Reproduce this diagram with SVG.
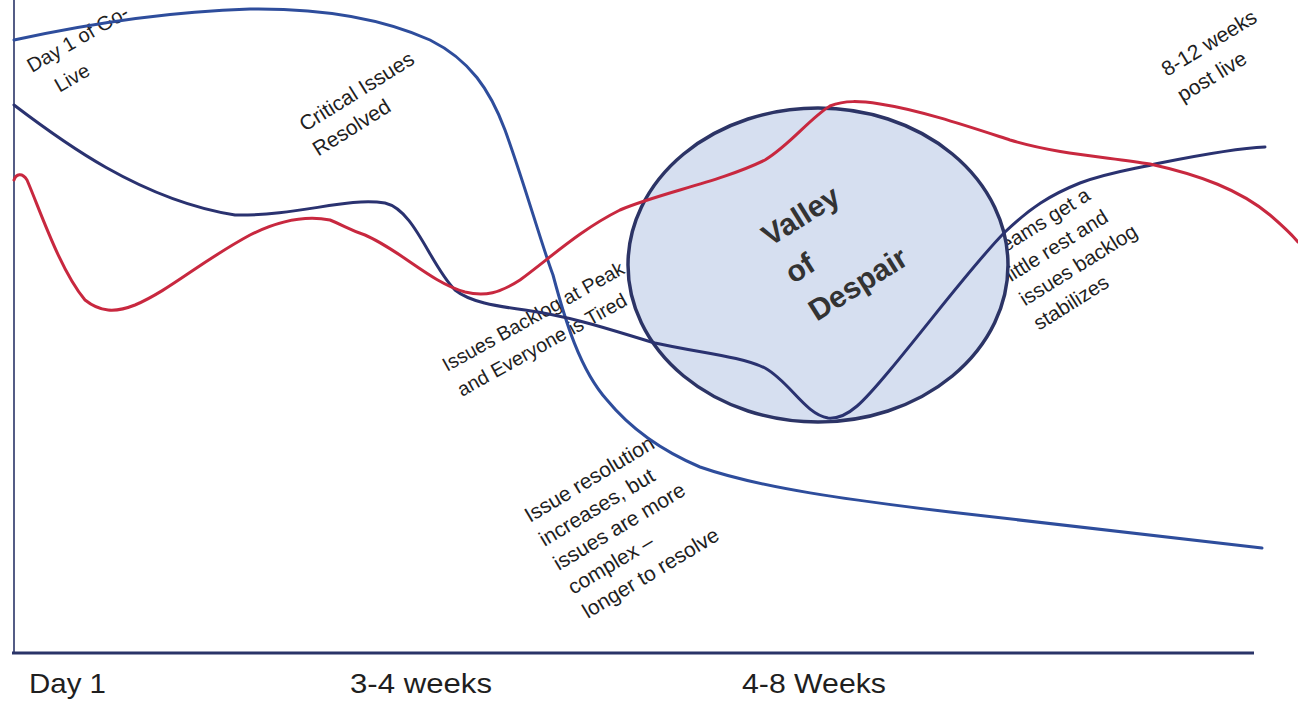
<svg xmlns="http://www.w3.org/2000/svg" width="1298" height="701" viewBox="0 0 1298 701">
<style>
.lbl{font-family:"Liberation Sans",Arial,sans-serif;font-size:20.5px;fill:#1f1f1f}
.ax{font-family:"Liberation Sans",Arial,sans-serif;font-size:28px;fill:#1f1f1f}
.big{font-family:"Liberation Sans",Arial,sans-serif;font-size:30px;font-weight:bold;fill:#333}
.crv{fill:none;stroke-width:3;stroke-linecap:round;stroke-linejoin:round}
</style>
<rect width="1298" height="701" fill="#fff"/>
<g id="axes" stroke="#2a3468" fill="none">
<line x1="14" y1="0" x2="14" y2="653" stroke-width="1.6"/>
<line x1="12" y1="653" x2="1254" y2="653" stroke-width="3"/>
</g>
<g id="axis-labels">
<text class="ax" x="29" y="693" textLength="77" lengthAdjust="spacingAndGlyphs">Day 1</text>
<text class="ax" x="350" y="693" textLength="142" lengthAdjust="spacingAndGlyphs">3-4 weeks</text>
<text class="ax" x="742" y="693" textLength="144" lengthAdjust="spacingAndGlyphs">4-8 Weeks</text>
</g>
<g id="label-day1" transform="translate(32,73) rotate(-30)">
<text class="lbl" style="font-size:20px"><tspan x="0" y="0">Day 1 of Go-</tspan><tspan x="14" y="31">Live</tspan></text>
</g>
<g id="label-critical" transform="translate(305,132) rotate(-32)">
<text class="lbl" style="font-size:21px"><tspan x="0" y="0">Critical Issues</tspan><tspan x="-2" y="28">Resolved</tspan></text>
</g>
<g id="label-backlog" transform="translate(447,372) rotate(-29)">
<text class="lbl" style="font-size:19.7px"><tspan x="0" y="0">Issues Backlog at Peak</tspan><tspan x="1" y="29">and Everyone is Tired</tspan></text>
</g>
<g id="label-resolution" transform="translate(530,523) rotate(-31)">
<text class="lbl" style="font-size:21px"><tspan x="0" y="0">Issue resolution</tspan><tspan x="0" y="28">increases, but</tspan><tspan x="0" y="56">issues are more</tspan><tspan x="0" y="84">complex –</tspan><tspan x="0" y="112">longer to resolve</tspan></text>
</g>
<g id="label-teams" transform="translate(997,258) rotate(-32)">
<text class="lbl"><tspan x="0" y="0">Teams get a</tspan><tspan x="-1" y="28">little rest and</tspan><tspan x="-2" y="56">issues backlog</tspan><tspan x="-3" y="84">stabilizes</tspan></text>
</g>
<g id="label-post" transform="translate(1167,77) rotate(-31.5)">
<text class="lbl" style="font-size:21px"><tspan x="0" y="0">8-12 weeks</tspan><tspan x="0" y="30">post live</tspan></text>
</g>
<g id="valley">
<ellipse cx="818" cy="265" rx="190" ry="157" fill="#d6dff0" stroke="#2c3466" stroke-width="3.5"/>
</g>
<g id="connectors">
<path id="curve-resolution" class="crv" stroke="#2e4d9c" d="M14,40 C60,30 150,12 250,9 C330,8 390,22 430,40 C470,60 490,90 505,130 C525,185 540,240 553,275 C565,320 580,370 607,400 C630,428 660,450 700,467 C760,488 850,500 950,512 C1080,527 1180,538 1262,548"/>
<path id="curve-backlog" class="crv" stroke="#2a3270" d="M14,105 C60,140 140,200 235,215 C300,216 345,197 385,203 C415,210 430,265 455,290 C470,302 495,306 525,310 C580,318 620,333 655,343 C700,353 740,356 765,368 C790,382 805,414 828,418 C848,420 865,400 890,370 C930,322 975,262 1005,232 C1030,208 1050,195 1080,183 C1110,172 1130,170 1160,163 C1200,155 1240,148 1265,147"/>
<path id="curve-morale" class="crv" stroke="#c8283f" d="M14,180 C16,174 22,172 27,180 C40,210 60,270 85,300 C100,312 115,313 135,305 C170,290 200,262 250,235 C280,220 305,215 330,220 C345,226 350,230 365,235 C400,250 430,282 465,292 C485,297 500,293 520,280 C550,258 580,230 620,210 C660,193 720,182 765,160 C790,145 810,118 830,106 C845,100 860,101 880,104 C920,110 970,127 1010,140 C1060,155 1110,157 1150,164 C1200,175 1240,190 1270,215 C1285,228 1293,236 1298,242"/>
</g>
<g id="valley-label" transform="translate(770,247) rotate(-32)">
<text class="big"><tspan x="0" y="0">Valley</tspan><tspan x="0" y="44">of</tspan><tspan x="0" y="88">Despair</tspan></text>
</g>
</svg>
